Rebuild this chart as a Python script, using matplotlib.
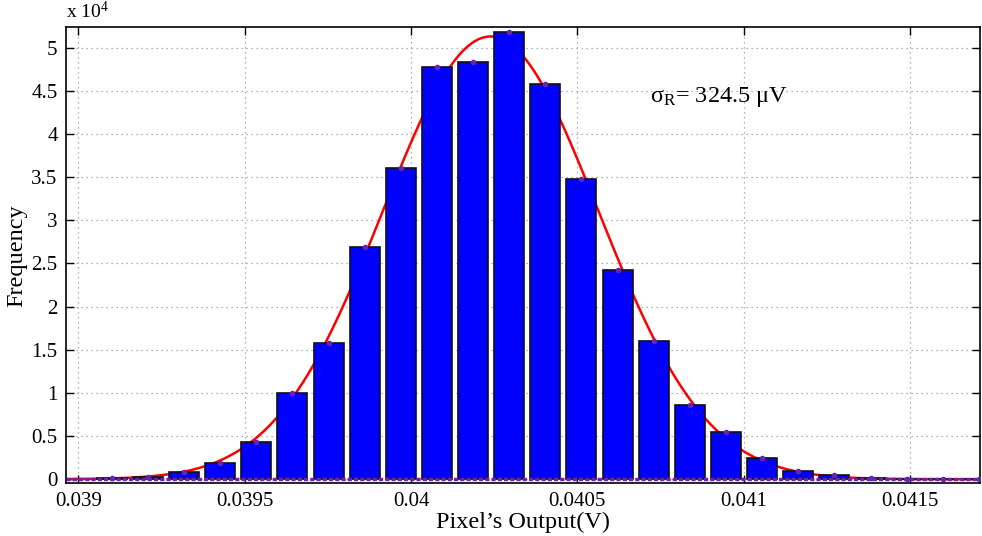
import numpy as np
import matplotlib
matplotlib.use("Agg")
import matplotlib.pyplot as plt
from matplotlib.ticker import FuncFormatter

# histogram
bin_start = 0.0391004
bin_width = 0.0001086
counts = [100, 300, 850, 1920, 4290, 10000, 15800, 26900, 36100, 47800,
          48300, 51800, 45800, 34800, 24300, 16000, 8600, 5450, 2500, 960,
          500, 150, 0, 0, 0]
sigma_text = r"$\mathregular{\sigma_R}$= 324.5 $\mathregular{\mu}$V"

x_ticks = [0.039, 0.0395, 0.040, 0.0405, 0.041, 0.0415]
y_ticks = [0, 5000, 10000, 15000, 20000, 25000, 30000, 35000, 40000, 45000, 50000]

counts = np.array(counts, dtype=float)
centers = bin_start + bin_width * np.arange(len(counts))

# gaussian fit from the histogram
mu = np.sum(counts * centers) / counts.sum()
sd = np.sqrt(np.sum(counts * (centers - mu) ** 2) / counts.sum())
amp = counts.sum() * bin_width / (sd * np.sqrt(2 * np.pi))

plt.rcParams["font.family"] = ["Liberation Serif", "DejaVu Serif"]
plt.rcParams["mathtext.fontset"] = "custom"
plt.rcParams["mathtext.rm"] = "Liberation Serif"

fig = plt.figure(figsize=(9.82, 5.36), dpi=100)
ax = fig.add_axes([0.0672, 0.0983, 0.9308, 0.8507])

xs = np.linspace(0.0389, 0.0418, 600)
ax.plot(xs, amp * np.exp(-0.5 * ((xs - mu) / sd) ** 2), color="#ff0000",
        lw=1.8, zorder=2)
ax.bar(centers, counts, width=bin_width * 0.83, color="#0000ff",
       edgecolor="#111111", linewidth=1.2, zorder=3)
ax.plot(centers, counts, ".", color="#6a22b0", ms=6, zorder=4)
ax.axhline(0, color="#6a22b0", lw=2.5, ls=(0, (1.2, 0.6)), zorder=5)

ax.set_xlim(0.038963, 0.041710)
ax.set_ylim(-463, 52357)
ax.set_xticks(x_ticks)
ax.set_yticks(y_ticks)
ax.xaxis.set_major_formatter(FuncFormatter(lambda v, p: "%g" % v))
ax.yaxis.set_major_formatter(FuncFormatter(lambda v, p: "%g" % (v / 1e4)))
ax.tick_params(direction="in", length=6, width=1, labelsize=15,
               top=True, right=True, pad=6)
ax.grid(True, color="#999999", ls=(0, (1, 3)), lw=0.9)
ax.set_axisbelow(True)
for s in ax.spines.values():
    s.set_linewidth(1.2)

ax.set_xlabel("Pixel\u2019s Output(V)", fontsize=17.5, labelpad=1)
ax.set_ylabel("Frequency", fontsize=17.5, labelpad=3)
ax.text(0.0, 1.012, r"x 10$\mathregular{^4}$", transform=ax.transAxes,
        fontsize=14, ha="left", va="bottom")
ax.text(0.040718, 43740, sigma_text, fontsize=17.5, ha="left", va="baseline")

fig.savefig("out.png", dpi=100)
